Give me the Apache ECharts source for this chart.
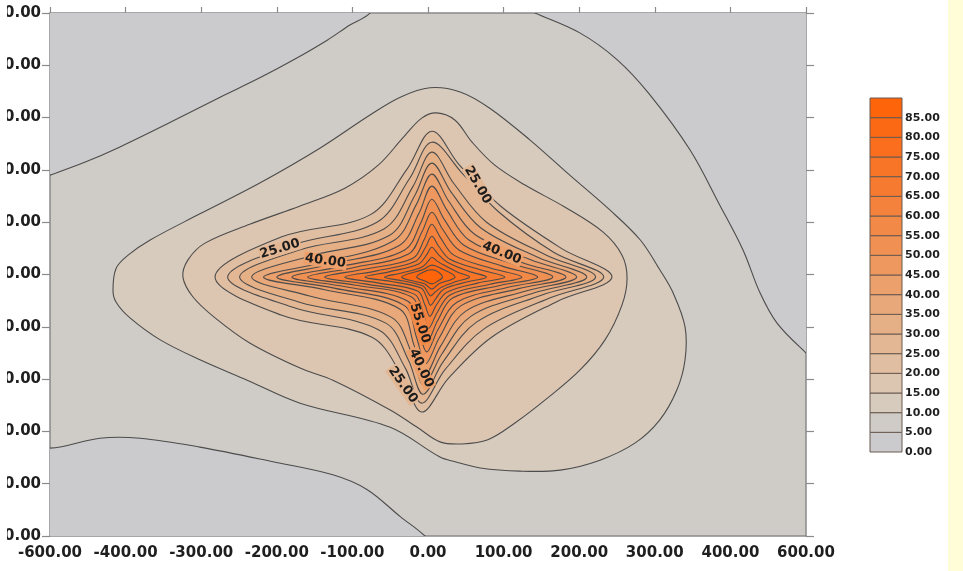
<!DOCTYPE html>
<html>
<head>
<meta charset="utf-8">
<script src="https://cdn.jsdelivr.net/npm/echarts@6/dist/echarts.min.js"></script>
<style>
  html, body { margin: 0; padding: 0; background: #ffffff; }
  #chart { width: 963px; height: 571px; }
</style>
</head>
<body>
<div id="chart"></div>
<script>
// Axis tick labels
const xTickLabels = ['-600.00', '-400.00', '-300.00', '-200.00', '-100.00', '0.00', '100.00', '200.00', '300.00', '400.00', '600.00'];
const yTickLabels = ['-500.00', '-400.00', '-300.00', '-200.00', '-100.00', '0.00', '100.00', '200.00', '300.00', '400.00', '500.00'];

// Contour levels (lower bound of each band) and the band fill colours
const bandLevels = [0, 5, 10, 15, 20, 25, 30, 35, 40, 45, 50, 55, 60, 65, 70, 75, 80, 85];
const legendTickLabels = ['0.00', '5.00', '10.00', '15.00', '20.00', '25.00', '30.00', '35.00', '40.00',
  '45.00', '50.00', '55.00', '60.00', '65.00', '70.00', '75.00', '80.00', '85.00'];
const bandColors = ['#cbcbcd', '#cfcbc6', '#d7cbbe', '#dcc6b1', '#e0bea2', '#e3b794', '#e6b086', '#e9a879',
  '#eca06c', '#ee985f', '#f09053', '#f28947', '#f4823c', '#f67b31', '#f87427', '#fa6e1d', '#fc6914', '#fe640a'];

// Areas below 5 (clipped to the plot)
const lowTopLeft = [[-700, 147], [-600, 190], [-544, 215], [-489, 244], [-409, 291], [-330, 339], [-267, 376],
  [-214, 410], [-160, 448], [-124, 477], [-92, 500], [-60, 560], [-700, 560]];
const lowTopRight = [[60, 560], [170, 500], [241, 462], [300, 411], [352, 344], [416, 238], [463, 133], [500, 47],
  [527, -35], [554, -93], [600, -150], [650, -205], [700, -205], [700, 560]];
const lowBottomLeft = [[-700, -320], [-600, -332], [-521, -313], [-457, -313], [-362, -330], [-246, -358],
  [-151, -383], [-97, -411], [-44, -463], [-5, -500], [40, -560], [-700, -560]];

// Closed contour lines, level 10 up to 85
const contour10 = [[-500, -30], [-495, 12], [-476, 37], [-441, 66], [-362, 116], [-267, 175], [-171, 242], [-92, 305],
  [-44, 339], [3, 357], [51, 349], [98, 318], [162, 257], [225, 190], [289, 123], [337, 66], [368, 9], [389, -35],
  [408, -100], [408, -163], [395, -221], [368, -278], [329, -322], [273, -355], [210, -374], [146, -376], [83, -370],
  [43, -358], [19, -349], [-60, -292], [-203, -246], [-287, -202], [-362, -163], [-425, -125], [-473, -83], [-495, -53]];
const contour15 = [[-389, -5], [-381, 28], [-354, 60], [-283, 96], [-203, 131], [-132, 165], [-79, 209], [-40, 261],
  [-10, 299], [14, 309], [43, 295], [70, 253], [106, 209], [154, 171], [217, 129], [278, 81], [308, 37], [316, -7],
  [308, -58], [281, -125], [241, -183], [190, -236], [138, -284], [95, -316], [54, -324], [19, -320], [-16, -293],
  [-60, -259], [-151, -202], [-203, -179], [-283, -131], [-338, -83], [-373, -43]];
const contour20 = [[-338, -5], [-232, 72], [-92, 114], [-33, 202], [6, 274], [50, 209], [117, 129], [213, 49], [292, -5],
  [206, -51], [101, -120], [32, -199], [-10, -263], [-41, -194], [-89, -120], [-232, -78]];
const contour25 = [[-318, -5], [-216, 56], [-81, 100], [-29, 184], [6, 253], [54, 194], [111, 121], [200, 42], [279, -5],
  [193, -45], [89, -104], [27, -182], [-10, -246], [-36, -179], [-78, -106], [-216, -62]];
const contour30 = [[-299, -5], [-204, 47], [-70, 87], [-24, 168], [6, 234], [41, 174], [93, 100], [188, 37], [266, -5],
  [181, -39], [77, -91], [24, -167], [-8, -229], [-31, -164], [-67, -93], [-204, -53]];
const contour35 = [[-280, -5], [-188, 35], [-61, 75], [-21, 151], [6, 213], [37, 157], [84, 89], [176, 32], [252, -5],
  [169, -35], [68, -80], [22, -152], [-7, -211], [-26, -150], [-58, -82], [-188, -41]];
const contour40 = [[-261, -5], [-167, 23], [-53, 66], [-18, 135], [6, 192], [33, 140], [74, 77], [163, 28], [236, -5],
  [157, -31], [60, -70], [20, -137], [-5, -192], [-22, -136], [-45, -66], [-164, -29]];
const contour45 = [[-240, -5], [-152, 20], [-45, 56], [-14, 118], [6, 169], [30, 123], [65, 66], [149, 23], [219, -5],
  [144, -27], [52, -60], [18, -121], [-4, -171], [-18, -121], [-38, -59], [-149, -26]];
const contour50 = [[-216, -5], [-135, 16], [-37, 47], [-11, 100], [6, 144], [26, 105], [57, 56], [135, 20], [198, -5],
  [129, -24], [46, -53], [16, -105], [-2, -148], [-15, -105], [-32, -51], [-133, -23]];
const contour55 = [[-191, -5], [-119, 13], [-31, 39], [-9, 83], [6, 119], [23, 87], [49, 47], [118, 16], [174, -5],
  [114, -21], [39, -45], [15, -89], [0, -125], [-11, -88], [-26, -43], [-117, -20]];
const contour60 = [[-164, -5], [-101, 10], [-24, 31], [-6, 67], [6, 96], [20, 70], [41, 37], [100, 12], [149, -5],
  [97, -19], [35, -39], [14, -74], [1, -103], [-8, -73], [-21, -38], [-100, -18]];
const contour65 = [[-132, -5], [-81, 7], [-19, 26], [-4, 52], [6, 73], [17, 54], [35, 29], [83, 9], [122, -5],
  [80, -16], [30, -34], [13, -59], [3, -80], [-5, -58], [-16, -32], [-80, -16]];
const contour70 = [[-100, -5], [-62, 5], [-15, 20], [-2, 38], [6, 52], [16, 39], [30, 24], [65, 6], [93, -5],
  [63, -14], [25, -28], [13, -45], [4, -59], [-2, -44], [-11, -26], [-60, -13]];
const contour75 = [[-69, -5], [-42, 3], [-10, 14], [0, 25], [6, 33], [14, 26], [25, 18], [48, 4], [66, -5],
  [46, -13], [22, -24], [11, -34], [4, -41], [-1, -33], [-8, -22], [-41, -12]];
const contour80 = [[-42, -5], [-7, 10], [6, 18], [20, 12], [43, -5], [17, -18], [6, -28], [-5, -18]];
const contour85 = [[-18, -5], [-7, 5], [6, 9], [16, 5], [23, -5], [15, -13], [6, -18], [-4, -13]];

// Inline contour labels: x, y, angle (deg), text
const contourLabels = [
  [-235, 49, 17, '25.00'], [-163, 26, -8, '40.00'], [79, 171, -60, '25.00'], [117, 41, -22, '40.00'],
  [-13, -93, -72, '55.00'], [-11, -179, -65, '40.00'], [-40, -211, -55, '25.00']
];

const contours = [
  [contour10, 10], [contour15, 15], [contour20, 20], [contour25, 25], [contour30, 30], [contour35, 35],
  [contour40, 40], [contour45, 45], [contour50, 50], [contour55, 55], [contour60, 60], [contour65, 65],
  [contour70, 70], [contour75, 75], [contour80, 80], [contour85, 85]
];

const LINE = '#4c4c4c';
const AXIS = '#8a8a8a';
const FONT = '"DejaVu Sans", Verdana, sans-serif';

function bandColor(level) {
  return bandColors[bandLevels.indexOf(level)];
}

function areaSeries(points, fill) {
  return {
    type: 'custom', xAxisIndex: 0, yAxisIndex: 0, clip: true, silent: true,
    data: [[0, 0]],
    renderItem: function (params, api) {
      return {
        type: 'polygon',
        shape: { points: points.map(function (p) { return api.coord(p); }), smooth: 0.35 },
        style: { fill: fill, stroke: LINE, lineWidth: 1.1 }
      };
    }
  };
}

const series = [];
series.push(areaSeries(lowTopLeft, bandColors[0]));
series.push(areaSeries(lowTopRight, bandColors[0]));
series.push(areaSeries(lowBottomLeft, bandColors[0]));
contours.forEach(function (c) { series.push(areaSeries(c[0], bandColor(c[1]))); });

// contour value labels
series.push({
  type: 'custom', xAxisIndex: 0, yAxisIndex: 0, silent: true,
  data: contourLabels.map(function (l) { return [l[0], l[1]]; }),
  renderItem: function (params, api) {
    const l = contourLabels[params.dataIndex];
    const p = api.coord([l[0], l[1]]);
    return {
      type: 'text', x: p[0], y: p[1], rotation: l[2] * Math.PI / 180,
      style: {
        text: l[3], font: 'bold 13px ' + FONT, fill: '#1c1c1c',
        align: 'center', verticalAlign: 'middle',
        backgroundColor: bandColor(parseFloat(l[3])), padding: [0, 1]
      }
    };
  }
});

// colour scale
series.push({
  type: 'custom', xAxisIndex: 2, yAxisIndex: 2, silent: true,
  data: bandLevels.map(function (v) { return [0, v]; }),
  renderItem: function (params, api) {
    const lo = bandLevels[params.dataIndex];
    const a = api.coord([0, lo + 5]);
    const b = api.coord([1, lo]);
    return {
      type: 'rect',
      shape: { x: a[0], y: a[1], width: b[0] - a[0], height: b[1] - a[1] },
      style: { fill: bandColors[params.dataIndex], stroke: '#6a5a50', lineWidth: 1 }
    };
  }
});

const chart = echarts.init(document.getElementById('chart'), null, { renderer: 'canvas' });
chart.setOption({
  animation: false,
  backgroundColor: '#ffffff',
  graphic: [
    { type: 'rect', right: 0, top: 0, z: -10, shape: { width: 15, height: 571 }, style: { fill: '#fffcd8' } },
    // page margin on the left edge, over the start of the y labels
    { type: 'rect', left: 0, top: 0, z: 100, shape: { width: 7, height: 571 }, style: { fill: '#ffffff' } }
  ],
  grid: [
    { left: 50, right: 157, top: 13, bottom: 35, show: true, backgroundColor: bandColors[1], borderWidth: 0,
      containLabel: false, outerBoundsMode: 'none' },
    { left: 870, top: 98, width: 32, height: 354, containLabel: false, outerBoundsMode: 'none' }
  ],
  xAxis: [
    {
      gridIndex: 0, type: 'value', min: -600, max: 600, interval: 120, position: 'bottom',
      axisLine: { show: true, onZero: false, lineStyle: { color: AXIS, width: 1.5 } },
      axisTick: { show: false }, splitLine: { show: false },
      axisLabel: {
        margin: 10, fontSize: 15, fontWeight: 'bold', fontFamily: FONT, color: '#1e1e1e',
        formatter: function (v) { return xTickLabels[Math.round((v + 600) / 120)]; }
      }
    },
    {
      gridIndex: 0, type: 'value', min: -600, max: 600, interval: 120, position: 'top',
      axisLine: { show: true, onZero: false, lineStyle: { color: AXIS, width: 1.5 } },
      axisTick: { show: true, inside: false, length: 6, lineStyle: { color: AXIS, width: 1.2 } },
      axisLabel: { show: false }, splitLine: { show: false }
    },
    { gridIndex: 1, type: 'value', min: 0, max: 1, show: false }
  ],
  yAxis: [
    {
      gridIndex: 0, type: 'value', min: -500, max: 500, interval: 100, position: 'left',
      axisLine: { show: true, onZero: false, lineStyle: { color: AXIS, width: 1.5 } },
      axisTick: { show: true, length: 8, lineStyle: { color: AXIS, width: 1.2 } },
      splitLine: { show: false },
      axisLabel: {
        margin: 9, fontSize: 15, fontWeight: 'bold', fontFamily: FONT, color: '#1e1e1e',
        formatter: function (v) { return yTickLabels[Math.round((v + 500) / 100)]; }
      }
    },
    {
      gridIndex: 0, type: 'value', min: -500, max: 500, interval: 100, position: 'right',
      axisLine: { show: true, onZero: false, lineStyle: { color: AXIS, width: 1.5 } },
      axisTick: { show: true, length: 8, lineStyle: { color: AXIS, width: 1.2 } },
      axisLabel: { show: false }, splitLine: { show: false }
    },
    {
      gridIndex: 1, type: 'value', min: 0, max: 90, interval: 5, position: 'right',
      axisLine: { show: false }, axisTick: { show: false }, splitLine: { show: false },
      axisLabel: {
        margin: 3, fontSize: 11, fontWeight: 'bold', fontFamily: FONT, color: '#1e1e1e',
        formatter: function (v) { return v < 90 ? legendTickLabels[bandLevels.indexOf(v)] : ''; }
      }
    }
  ],
  series: series
});
</script>
</body>
</html>
